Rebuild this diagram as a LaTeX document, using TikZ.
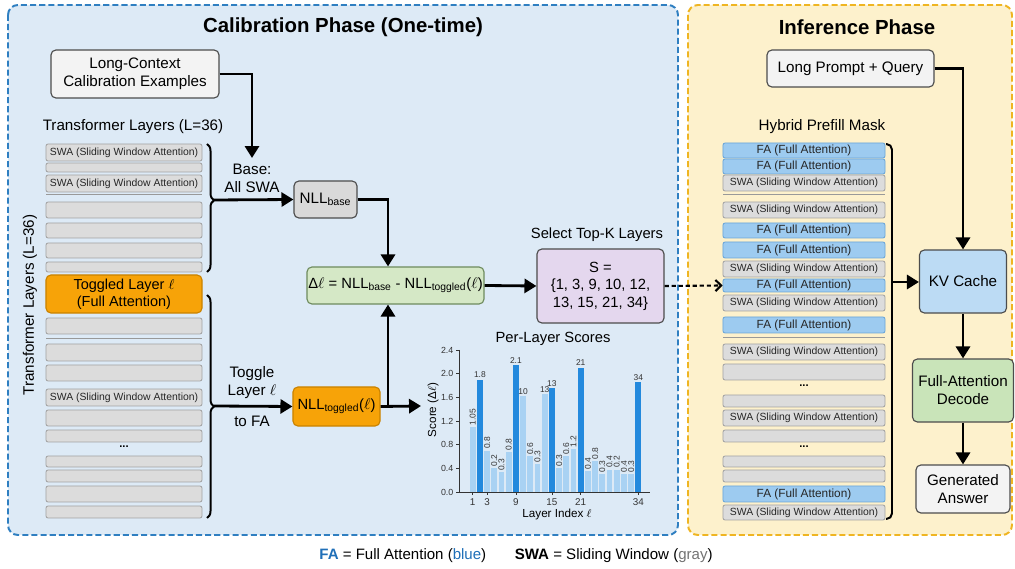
\documentclass[tikz,border=0pt]{standalone}
\usepackage{fontspec}
\setmainfont{Liberation Sans}
\usetikzlibrary{positioning,calc,arrows.meta,decorations.pathreplacing}
\tikzset{>={Triangle[length=8.5pt,width=10pt]}}

\definecolor{calfill}{HTML}{DDEAF6}
\definecolor{calline}{HTML}{2F7FC1}
\definecolor{inffill}{HTML}{FDF1CC}
\definecolor{infline}{HTML}{EFB522}
\definecolor{lightbox}{HTML}{F3F3F3}
\definecolor{nllgray}{HTML}{D9D9D9}
\definecolor{togorange}{HTML}{F7A308}
\definecolor{togdraw}{HTML}{C98200}
\definecolor{deltafill}{HTML}{D5E8C6}
\definecolor{deltadraw}{HTML}{6E8B5E}
\definecolor{sfill}{HTML}{E4D7EE}
\definecolor{kvfill}{HTML}{BCDBF4}
\definecolor{decfill}{HTML}{C9E4B9}
\definecolor{layfills}{HTML}{DCDCDC}
\definecolor{layfille}{HTML}{DCDCDC}
\definecolor{layfillf}{HTML}{9DCBF0}
\definecolor{laydraws}{HTML}{A3A3A3}
\definecolor{laydrawe}{HTML}{A3A3A3}
\definecolor{laydrawf}{HTML}{6AA5D8}
\definecolor{barL}{HTML}{A9D2F3}
\definecolor{barD}{HTML}{2389DD}
\definecolor{fablue}{HTML}{1F6FB8}

\newcommand\laytxts{\fontsize{7.4}{8}\selectfont SWA (Sliding Window Attention)}
\newcommand\laytxte{}
\newcommand\laytxtf{\fontsize{8.4}{9}\selectfont FA (Full Attention)}

\begin{document}
\begin{tikzpicture}[x=0.025cm,y=-0.025cm,
  panel/.style={dash pattern=on 4.3pt off 2.2pt, line width=1.4pt, rounded corners=7pt},
  box/.style={draw=black!70, line width=0.8pt, rounded corners=3.5pt, inner sep=0pt, align=center, font=\fontsize{10.8}{12.8}\selectfont},
  lbl/.style={align=center, font=\fontsize{10.8}{12.8}\selectfont},
  ttl/.style={font=\bfseries\fontsize{14.5}{16}\selectfont},
  flow/.style={->, line width=2pt},
  dashflow/.style={-{Straight Barb[length=4pt,width=8pt]}, line width=1.5pt, dash pattern=on 3pt off 2pt},
  layer/.style={rounded corners=1.5pt, fill=layfill#1, draw=laydraw#1, line width=0.6pt, inner sep=0pt, text=black!85},
  sepline/.style={draw=black!40, line width=0.6pt},
  bracestyle/.style={decorate, line width=1.4pt},
  dots/.style={font=\bfseries\fontsize{8}{8}\selectfont},
  tick/.style={font=\fontsize{6.3}{7}\selectfont, text=black!80},
]
\useasboundingbox (0,0) rectangle (1015,569);
\fill[white] (0,0) rectangle (1015,569);

% panels
\draw[panel, draw=calline, fill=calfill] (8,5) rectangle (678,535);
\draw[panel, draw=infline, fill=inffill] (688,5) rectangle (1012,535);
\node[ttl] (caltitle) at (343,27) {Calibration Phase (One-time)};
\node[ttl] (inftitle) at (857,27) {Inference Phase};

% calibration phase
\node[box, fill=lightbox, minimum width=4.2cm, minimum height=1.2cm] (lcx) at (135,74) {Long-Context\\Calibration Examples};
\node[lbl] (tlabel) at (133,127) {Transformer Layers (L=36)};
\node[lbl, rotate=90] (tvlabel) at (30,305) {Transformer Layers (L=36)};

\foreach \ya/\yb/\k [count=\i] in {144/161/s, 163/172/e, 175/192/s, 202/218/e, 223/238/e, 243/258/e, 262/272/e}
  \node[layer=\k, minimum width=3.9cm, minimum height={(\yb-\ya)*0.025cm}] (up\i) at (124,{(\ya+\yb)/2}) {\csname laytxt\k\endcsname};
\node[box, fill=togorange, draw=togdraw, minimum width=3.9cm, minimum height=0.95cm, font=\fontsize{10.3}{12}\selectfont] (tog) at (124,294) {Toggled Layer $\ell$\\(Full Attention)};
\foreach \ya/\yb/\k [count=\i] in {318/334/e, 344/361/e, 365/381/e, 389/406/s, 410/426/e, 430/442/e, 456/467/e, 470/482/e, 486/502/e, 506/518/e}
  \node[layer=\k, minimum width=3.9cm, minimum height={(\yb-\ya)*0.025cm}] (lo\i) at (124,{(\ya+\yb)/2}) {\csname laytxt\k\endcsname};
\draw[sepline] (46,194) -- (202,194);
\draw[sepline] (46,338) -- (202,338);
\node[dots] (ldots) at (124,447) {...};

\coordinate (ubt) at (207,144);
\coordinate (ubb) at (207,272);
\coordinate (lbt) at (207,295);
\coordinate (lbb) at (207,518);
\draw[bracestyle, decoration={brace, amplitude=5pt, aspect=0.44}] (ubt) -- (ubb);
\draw[bracestyle, decoration={brace, amplitude=5pt, aspect=0.5}] (lbt) -- (lbb);
\coordinate (utip) at (214,200);
\coordinate (ltip) at (214,406);
\coordinate (baseend) at (252,158);

\node[lbl] (baselbl) at (252,178) {Base:\\All SWA};
\node[lbl] (toglbl) at (252,383) {Toggle\\Layer $\ell$};
\node[lbl] (tofa) at (252,421) {to FA};

\node[box, fill=nllgray, minimum width=1.575cm, minimum height=0.925cm] (nllbase) at (325.5,199.5) {NLL\textsubscript{base}};
\node[box, fill=deltafill, draw=deltadraw, minimum width=4.425cm, minimum height=0.925cm, font=\fontsize{10.5}{12}\selectfont] (delta) at (395.5,285.5) {Δ$\ell$ = NLL\textsubscript{base} - NLL\textsubscript{toggled}($\ell$)};
\node[box, fill=togorange, draw=togdraw, minimum width=2.175cm, minimum height=0.975cm, font=\fontsize{10.5}{12}\selectfont] (nlltog) at (336.5,406.5) {NLL\textsubscript{toggled}($\ell$)};
\node[box, fill=sfill, minimum width=3.175cm, minimum height=1.85cm, font=\fontsize{10.5}{12.5}\selectfont] (sbox) at (600.5,286) {S =\\\{1, 3, 9, 10, 12,\\13, 15, 21, 34\}};
\node[lbl, font=\fontsize{10.5}{12}\selectfont] (sellbl) at (597,235) {Select Top-K Layers};
\coordinate (join) at (388,406);
\coordinate (chartin) at (421,406);

\draw[flow] (lcx.east) -| (baseend);
\draw[flow] (utip) -- (nllbase.west);
\draw[flow] (ltip) -- (nlltog.west);
\draw[flow] (nllbase.east) -| (join |- delta.north);
\draw[flow] (nlltog.east) -| (join |- delta.south);
\draw[flow] (nlltog.east) -- (chartin);
\draw[flow] (delta.east) -- (sbox.west);

% per-layer scores
\node[lbl, font=\fontsize{10.5}{12}\selectfont] (charttitle) at (553,339) {Per-Layer Scores};
\foreach \v/\c/\lab/\r/\an [count=\i] in {1.10/L/1.05/90/west, 1.90/D/1.8/0/south, 0.70/L/0.8/90/west, 0.40/L/0.2/90/west, 0.33/L/0.3/90/west, 0.68/L/0.8/90/west, 2.15/D/2.1/0/south, 1.62/L/10/0/south, 0.60/L/0.6/90/west, 0.47/L/0.3/90/west, 1.65/L/13/0/south, 1.75/D/13/0/south, 0.40/L/0.3/90/west, 0.60/L/0.6/90/west, 0.73/L/1.2/90/west, 2.10/D/21/0/south, 0.35/L/0.4/90/west, 0.52/L/0.8/90/west, 0.30/L/0.3/90/west, 0.38/L/0.4/90/west, 0.38/L/0.2/90/west, 0.30/L/0.4/90/west, 0.30/L/0.3/90/west, 1.85/D/34/0/south} {
  \pgfmathsetmacro\xc{472.7+(\i-1)*7.2}
  \fill[bar\c] (\xc-2.9,492) rectangle (\xc+2.9,{492-\v*59.2});
  \node[tick, font=\fontsize{6}{7}\selectfont, rotate=\r, anchor=\an, inner sep=1pt] (blab\i) at (\xc,{492-\v*59.2}) {\lab};
}
\draw[line width=0.6pt, black!80] (459,350) -- (459,492) -- (650,492);
\foreach \t in {0.0,0.4,0.8,1.2,1.6,2.0,2.4} {
  \draw[line width=0.5pt, black!80] (456,{492-\t*59.2}) -- (459,{492-\t*59.2});
  \node[tick, anchor=east, inner sep=1pt] (yt\t) at (455,{492-\t*59.2}) {\t};
}
\foreach \i/\lab in {1/1, 3/3, 7/9, 12/15, 16/21, 24/34} {
  \pgfmathsetmacro\xc{472.7+(\i-1)*7.2}
  \draw[line width=0.5pt, black!80] (\xc,492) -- (\xc,495);
  \node[tick, font=\fontsize{7}{8}\selectfont] (xt\i) at (\xc,502) {\lab};
}
\node[lbl, font=\fontsize{8.3}{9}\selectfont] (xlabel) at (557,514) {Layer Index $\ell$};
\node[lbl, font=\fontsize{8.3}{9}\selectfont, rotate=90] (ylabel) at (433,410) {Score (Δ$\ell$)};

% inference phase
\node[box, fill=lightbox, minimum width=4.175cm, minimum height=0.925cm] (lpq) at (850.5,68.5) {Long Prompt + Query};
\node[lbl] (hyblbl) at (822,127) {Hybrid Prefill Mask};
\foreach \ya/\yb/\k [count=\i] in {143/158/f, 159/174/f, 175/191/s, 202/218/s, 223/238/f, 242/258/f, 261/277/s, 279/292/f, 295/311/s, 317/333/f, 344/360/s, 364/380/e, 395/407/e, 410/426/s, 430/442/e, 456/467/e, 470/482/e, 486/502/f, 505/520/s}
  \node[layer=\k, minimum width=4.05cm, minimum height={(\yb-\ya)*0.025cm}] (R\i) at (804,{(\ya+\yb)/2}) {\csname laytxt\k\endcsname};
\draw[sepline] (723,194) -- (885,194);
\draw[sepline] (723,337) -- (885,337);
\node[dots] (rdots1) at (804,386) {...};
\node[dots] (rdots2) at (804,447) {...};
\draw[line width=1.4pt, rounded corners=4pt] (886,144) -- (892,144) -- (892,519) -- (886,519);
\coordinate (rtip) at (892,282);

\node[box, fill=kvfill, minimum width=2.175cm, minimum height=1.575cm] (kv) at (963,281.5) {KV Cache};
\node[box, fill=decfill, minimum width=2.525cm, minimum height=1.575cm] (dec) at (963,390.5) {Full-Attention\\Decode};
\node[box, fill=lightbox, minimum width=2.35cm, minimum height=1.2cm] (ans) at (963,489) {Generated\\Answer};

\draw[dashflow] (sbox.east) -- (R8.west);
\draw[flow] (lpq.east) -| (kv.north);
\draw[flow] (rtip) -- (rtip -| kv.west);
\draw[flow] (kv.south) -- (dec.north);
\draw[flow] (dec.south) -- (ans.north);

% legend
\node[lbl, font=\fontsize{10.7}{12}\selectfont] (legend) at (516,556) {{\color{fablue}\textbf{FA}} = Full Attention ({\color{fablue}blue})\hspace{1.9em}\textbf{SWA} = Sliding Window ({\color{black!55}gray})};
\end{tikzpicture}
\end{document}
